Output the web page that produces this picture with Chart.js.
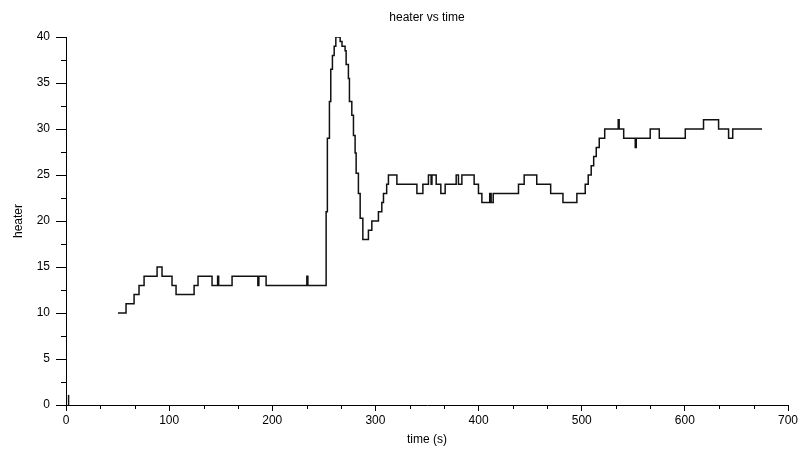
<!DOCTYPE html>
<html>
<head>
<meta charset="utf-8">
<script src="https://cdn.jsdelivr.net/npm/chart.js@4.4.1/dist/chart.umd.min.js"></script>
<style>
  body { margin: 0; background: #fff; }
  #wrap { width: 809px; height: 458px; position: relative; }
</style>
</head>
<body>
<div id="wrap"><canvas id="heaterChart"></canvas></div>
<script>
// step data: value holds from each time until the next one
const timeSec = [50.4, 58.2, 66.0, 70.8, 75.7, 88.3, 93.1, 102.8, 106.7, 124.2,
    128.0, 141.6, 147.0, 148.0, 161.0, 186.0, 187.0, 194.0, 233.5, 234.5,
    252.2, 253.4, 255.4, 256.7, 258.3, 260.0, 261.6, 265.8, 267.6, 270.6,
    271.6, 273.8, 274.8, 277.1, 278.7, 280.3, 281.3, 283.5, 285.2, 287.8,
    293.2, 296.5, 302.9, 306.2, 307.8, 310.9, 312.6, 320.8, 340.2, 346.0,
    351.4, 354.0, 354.8, 358.9, 363.4, 367.6, 378.3, 380.5, 383.8, 395.7,
    399.9, 403.2, 410.8, 412.2, 414.2, 438.7, 444.2, 456.4, 469.9, 481.8,
    495.3, 503.4, 506.3, 509.2, 511.6, 514.1, 517.0, 522.3, 535.4, 536.3,
    540.7, 551.9, 552.9, 566.4, 575.2, 600.4, 618.1, 632.7, 642.4, 646.4,
    674.8];
const heaterVal = [10, 11, 12, 13, 14, 15, 14, 13, 12, 13,
    14, 13, 14, 13, 14, 13, 14, 13, 14, 13,
    21, 29, 33, 36.5, 38, 39, 40, 39.5, 39, 38.5,
    37, 35.5, 33, 31.5, 29.3, 27.4, 25.2, 23, 20.3, 18,
    19, 20, 21, 22, 23, 24, 25, 24, 23, 24,
    25, 24, 25, 24, 23, 24, 25, 24, 25, 24,
    23, 22, 23, 22, 23, 24, 25, 24, 23, 22,
    23, 24, 25, 26, 27, 28, 29, 30, 31, 30,
    29, 28, 29, 30, 29, 30, 31, 30, 29, 30,
    30];
// little blip right at the origin
const blipTime = [2.5, 2.5];
const blipVal = [0, 1.1];

const xTicks = [0, 100, 200, 300, 400, 500, 600, 700];
const yTicks = [0, 5, 10, 15, 20, 25, 30, 35, 40];

const FONT = "'Liberation Sans', Arial, sans-serif";

// minor ticks (3 per interval on x, 2 on y)
const minorTicks = {
    id: 'minorTicks',
    afterDraw(chart) {
        const ctx = chart.ctx;
        const xs = chart.scales.x, ys = chart.scales.y;
        ctx.save();
        ctx.strokeStyle = '#000';
        ctx.lineWidth = 1;
        ctx.beginPath();
        for (let i = 0; i < yTicks.length - 1; i++) {
            const py = Math.round(ys.getPixelForValue((yTicks[i] + yTicks[i + 1]) / 2)) + 0.5;
            ctx.moveTo(ys.right - 5, py);
            ctx.lineTo(ys.right, py);
        }
        for (let i = 0; i < xTicks.length - 1; i++) {
            [1 / 3, 2 / 3].forEach(f => {
                const px = Math.round(xs.getPixelForValue(xTicks[i] + (xTicks[i + 1] - xTicks[i]) * f)) + 0.5;
                ctx.moveTo(px, xs.top);
                ctx.lineTo(px, xs.top + 4);
            });
        }
        ctx.stroke();
        ctx.restore();
    }
};

const ctx = document.getElementById('heaterChart').getContext('2d');
new Chart(ctx, {
    type: 'line',
    data: {
        datasets: [{
            data: timeSec.map((t, i) => ({ x: t, y: heaterVal[i] })),
            borderColor: '#111',
            borderWidth: 1.5,
            pointRadius: 0,
            stepped: 'before',
            fill: false
        }, {
            data: blipTime.map((t, i) => ({ x: t, y: blipVal[i] })),
            borderColor: '#111',
            borderWidth: 1.5,
            pointRadius: 0,
            fill: false
        }]
    },
    options: {
        responsive: true,
        maintainAspectRatio: false,
        animation: false,
        layout: { padding: { left: 0, right: 21, top: 0, bottom: 0 } },
        plugins: {
            legend: { display: false },
            tooltip: { enabled: false },
            title: { display: false }
        },
        scales: {
            // empty top axis, only used to hold the title centred over the plot
            top: {
                type: 'linear',
                position: 'top',
                min: 0,
                max: 700,
                afterFit: s => { s.height = 37; },
                border: { display: false },
                grid: { display: false },
                ticks: { display: false },
                title: {
                    display: true,
                    text: 'heater vs time',
                    color: '#000',
                    font: { family: FONT, size: 12 },
                    padding: { top: 10, bottom: 0 }
                }
            },
            x: {
                type: 'linear',
                min: 0,
                max: 700,
                afterBuildTicks: s => { s.ticks = xTicks.map(v => ({ value: v })); },
                afterFit: s => { s.height = 53; },
                border: { display: true, color: '#000', width: 1 },
                grid: { drawOnChartArea: false, drawTicks: true, tickLength: 6, color: '#000' },
                ticks: { color: '#000', font: { family: FONT, size: 12 }, padding: 2, maxRotation: 0 },
                title: {
                    display: true,
                    text: 'time (s)',
                    color: '#000',
                    font: { family: FONT, size: 12 },
                    padding: { top: 0, bottom: 11 }
                }
            },
            y: {
                type: 'linear',
                min: 0,
                max: 40,
                afterBuildTicks: s => { s.ticks = yTicks.map(v => ({ value: v })); },
                afterFit: s => { s.width = 66; },
                border: { display: true, color: '#000', width: 1 },
                grid: { drawOnChartArea: false, drawTicks: true, tickLength: 10, color: '#000' },
                ticks: { color: '#000', font: { family: FONT, size: 12 }, padding: 6 },
                title: {
                    display: true,
                    text: 'heater',
                    color: '#000',
                    font: { family: FONT, size: 12 },
                    padding: { top: 11, bottom: 0 }
                }
            }
        }
    },
    plugins: [minorTicks]
});
</script>
</body>
</html>
